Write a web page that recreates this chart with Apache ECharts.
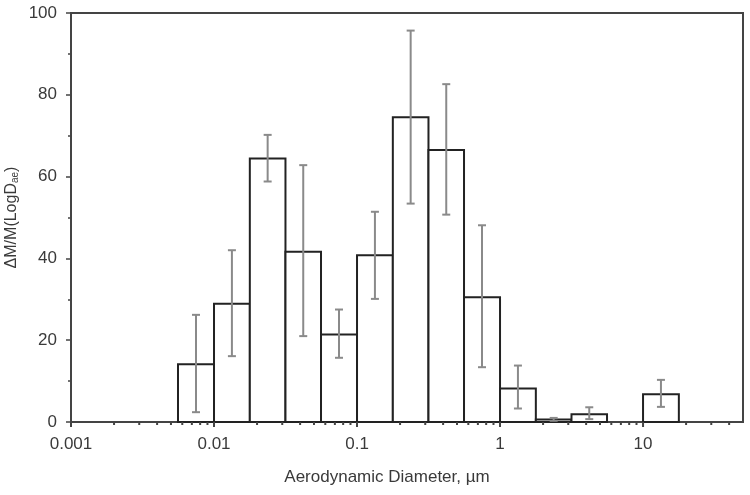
<!DOCTYPE html>
<html>
<head>
<meta charset="utf-8">
<script src="https://cdn.jsdelivr.net/npm/echarts@6/dist/echarts.min.js"></script>
<style>
  html, body { margin: 0; padding: 0; background: #fff; }
  #chart { width: 750px; height: 495px; }
</style>
</head>
<body>
<div id="chart"></div>
<script>
// bin edges (µm), impactor stages
const binLo = [0.0056, 0.01, 0.0178, 0.0316, 0.056, 0.1, 0.178, 0.316, 0.56, 1, 1.78, 3.16, 10];
const binHi = [0.01, 0.0178, 0.0316, 0.056, 0.1, 0.178, 0.316, 0.56, 1, 1.78, 3.16, 5.6, 17.8];
// dM/M(logDae)
const massFrac = [14.1, 28.9, 64.4, 41.6, 21.4, 40.8, 74.5, 66.5, 30.5, 8.2, 0.6, 1.9, 6.8];
const errLow = [2.4, 16.1, 58.8, 21.0, 15.7, 30.1, 53.4, 50.7, 13.4, 3.3, 0.3, 0.7, 3.7];
const errHigh = [26.2, 42.0, 70.2, 62.8, 27.5, 51.4, 95.7, 82.6, 48.1, 13.8, 1.0, 3.6, 10.3];
const xTicks = [0.001, 0.01, 0.1, 1, 10];

// minor ticks 2..9 per decade (axis furniture)
const minorTicks = [];
xTicks.forEach(d => {
  for (let k = 2; k <= 9; k++) {
    if (d * k < 50) minorTicks.push(+(d * k).toPrecision(2));
  }
});

const barData = binLo.map((lo, i) => [lo, binHi[i], massFrac[i]]);
const errData = binLo.map((lo, i) => [Math.sqrt(lo * binHi[i]), errLow[i], errHigh[i]]);
const tickData = xTicks.map(v => [v, 5]).concat(minorTicks.map(v => [v, 3]));

const lineCol = '#222';
const textCol = '#3a3a3a';

let option = {
  animation: false,
  grid: {
    left: 71,
    right: 7,
    top: 13,
    bottom: 73,
    containLabel: false,
    outerBoundsMode: 'none',
    show: true,
    borderColor: '#444',
    borderWidth: 2,
    backgroundColor: 'transparent'
  },
  xAxis: {
    type: 'log',
    logBase: 10,
    min: 0.001,
    max: 50,
    name: 'Aerodynamic Diameter, µm',
    nameLocation: 'middle',
    nameMoveOverlap: false,
    nameGap: 47,
    nameTextStyle: { fontFamily: 'Liberation Sans', fontSize: 17, color: textCol, padding: [0, 40, 0, 0] },
    axisLine: { lineStyle: { color: '#444', width: 2 } },
    axisTick: { show: false },
    splitLine: { show: false },
    axisLabel: {
      margin: 14,
      fontFamily: 'Liberation Sans',
      fontSize: 17,
      color: textCol,
      showMaxLabel: false,
      formatter: v => xTicks.some(t => Math.abs(t - v) / t < 1e-6) ? String(+(+v).toPrecision(2)) : ''
    }
  },
  yAxis: {
    type: 'value',
    min: 0,
    max: 100,
    interval: 20,
    name: '{a|ΔM/M(LogD}{s|ae}{a|)}',
    nameLocation: 'middle',
    nameMoveOverlap: false,
    nameGap: 51,
    nameTextStyle: {
      rich: {
        a: { fontFamily: 'Liberation Sans', fontSize: 16, color: textCol },
        s: { fontFamily: 'Liberation Sans', fontSize: 10, color: textCol, verticalAlign: 'bottom', padding: [7, 0, 0, 0] }
      }
    },
    axisLine: { show: true, lineStyle: { color: '#444', width: 2 } },
    axisTick: { show: true, length: 5, lineStyle: { color: '#444', width: 1.5 } },
    minorTick: { show: true, splitNumber: 2, length: 3, lineStyle: { color: '#444', width: 1.5 } },
    splitLine: { show: false },
    axisLabel: { margin: 14, fontFamily: 'Liberation Sans', fontSize: 17, color: textCol }
  },
  series: [
    {
      type: 'custom',
      name: 'bins',
      data: barData,
      encode: { x: [0, 1], y: 2 },
      renderItem: function (params, api) {
        const p0 = api.coord([api.value(0), api.value(2)]);
        const p1 = api.coord([api.value(1), 0]);
        return {
          type: 'rect',
          shape: { x: p0[0], y: p0[1], width: p1[0] - p0[0], height: p1[1] - p0[1] },
          style: { fill: '#fff', stroke: lineCol, lineWidth: 2 }
        };
      }
    },
    {
      type: 'custom',
      name: 'error',
      data: errData,
      encode: { x: 0, y: [1, 2] },
      z: 3,
      renderItem: function (params, api) {
        const lo = api.coord([api.value(0), api.value(1)]);
        const hi = api.coord([api.value(0), api.value(2)]);
        const cap = 4;
        const st = { stroke: '#8a8a8a', lineWidth: 2 };
        return {
          type: 'group',
          children: [
            { type: 'line', shape: { x1: lo[0], y1: lo[1], x2: hi[0], y2: hi[1] }, style: st },
            { type: 'line', shape: { x1: lo[0] - cap, y1: lo[1], x2: lo[0] + cap, y2: lo[1] }, style: st },
            { type: 'line', shape: { x1: hi[0] - cap, y1: hi[1], x2: hi[0] + cap, y2: hi[1] }, style: st }
          ]
        };
      }
    },
    {
      type: 'custom',
      name: 'xticks',
      data: tickData,
      encode: { x: 0 },
      silent: true,
      z: 4,
      renderItem: function (params, api) {
        const p = api.coord([api.value(0), 0]);
        return {
          type: 'line',
          shape: { x1: p[0], y1: p[1], x2: p[0], y2: p[1] + api.value(1) },
          style: { stroke: '#444', lineWidth: 2 }
        };
      }
    }
  ]
};

let myChart = echarts.init(document.getElementById('chart'));
myChart.setOption(option);
</script>
</body>
</html>
